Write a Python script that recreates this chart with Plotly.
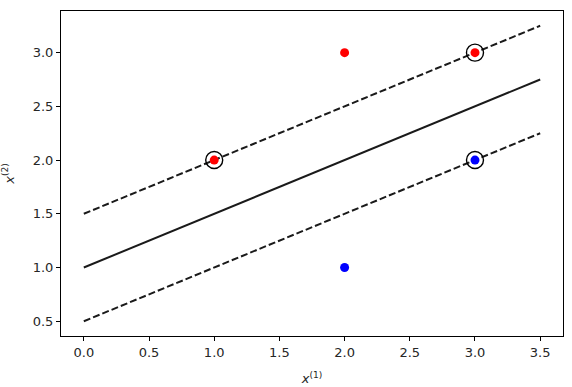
import plotly.graph_objects as go

red_x = [1, 2, 3]
red_y = [2, 3, 3]
blue_x = [2, 3]
blue_y = [1, 2]
sv_x = [1, 3, 3]
sv_y = [2, 3, 2]
line_x = [0.0, 3.5]
boundary_y = [1.0, 2.75]
upper_margin_y = [1.5, 3.25]
lower_margin_y = [0.5, 2.25]
x_ticks = [0.0, 0.5, 1.0, 1.5, 2.0, 2.5, 3.0, 3.5]
y_ticks = [0.5, 1.0, 1.5, 2.0, 2.5, 3.0]

lc = "#1a1a1a"
fig = go.Figure()
fig.add_trace(go.Scatter(x=line_x, y=boundary_y, mode="lines",
                         line=dict(color=lc, width=2)))
fig.add_trace(go.Scatter(x=line_x, y=upper_margin_y, mode="lines",
                         line=dict(color=lc, width=2, dash="7px,3px")))
fig.add_trace(go.Scatter(x=line_x, y=lower_margin_y, mode="lines",
                         line=dict(color=lc, width=2, dash="7px,3px")))
fig.add_trace(go.Scatter(x=red_x, y=red_y, mode="markers",
                         marker=dict(color="#ff0000", size=9, line=dict(width=0))))
fig.add_trace(go.Scatter(x=blue_x, y=blue_y, mode="markers",
                         marker=dict(color="#0000ff", size=9, line=dict(width=0))))
fig.add_trace(go.Scatter(x=sv_x, y=sv_y, mode="markers",
                         marker=dict(symbol="circle-open", color="black", size=17,
                                     line=dict(width=1.4, color="black"))))

axis_common = dict(showgrid=False, zeroline=False, showline=True, mirror=True,
                   linecolor="black", linewidth=1, ticks="outside", ticklen=4,
                   tickcolor="black", tickwidth=1, automargin=False,
                   tickfont=dict(family="DejaVu Sans", size=13, color="#262626"))
fig.update_xaxes(range=[-0.175, 3.675], tickvals=x_ticks,
                 ticktext=[f"{v:.1f}" for v in x_ticks],
                 title=dict(text="<i>x</i><sup>(1)</sup>",
                            font=dict(family="DejaVu Sans", size=13, color="#262626")),
                 **axis_common)
fig.update_yaxes(range=[0.3625, 3.3875], tickvals=y_ticks,
                 ticktext=[f"{v:.1f}" for v in y_ticks],
                 title=dict(text="<i>x</i><sup>(2)</sup>",
                            font=dict(family="DejaVu Sans", size=13, color="#262626")),
                 **axis_common)
fig.update_layout(width=572, height=387, showlegend=False,
                  margin=dict(l=61, r=9, t=11, b=51),
                  plot_bgcolor="white", paper_bgcolor="white")
fig.write_html("out.html", config={"displayModeBar": False},
               post_script="document.body.style.margin='0px';")
